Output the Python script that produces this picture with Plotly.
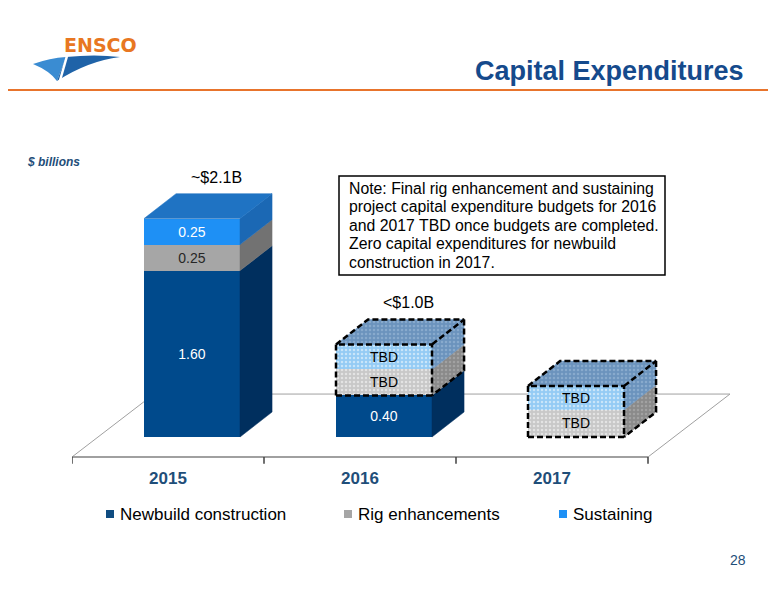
import plotly.graph_objects as go

# Capital expenditures ($ billions) - 2016/2017 rig & sustaining are placeholders (TBD)
years = ["2015", "2016", "2017"]
newbuild = [1.60, 0.40, 0.0]
rig_actual = [0.25, None, None]
rig_tbd = [None, 0.25, 0.26]
sust_actual = [0.25, None, None]
sust_tbd = [None, 0.24, 0.23]
newbuild_text = ["1.60", "0.40", ""]
actual_text = ["0.25", "", ""]
tbd_text = ["", "TBD", "TBD"]
totals_text = ["~$2.1B", "<$1.0B", ""]
legend_names = ["Newbuild construction", "Rig enhancements", "Sustaining"]
note_lines = [
    "Note: Final rig enhancement and sustaining",
    "project capital expenditure budgets for 2016",
    "and 2017 TBD once budgets are completed.",
    "Zero capital expenditures for newbuild",
    "construction in 2017.",
]

W, H = 776, 600
PAGE = 8  # the html body margin shifts the figure by 8px
L, R, T, B = 72 - PAGE, 44, 100 - PAGE, 142
PW, PH = W - L - R, H - T - B
NAVY = "#1F4E79"


def px(x, y):
    # page pixel -> paper coords
    return (x - PAGE - L) / PW, (H - B - (y - PAGE)) / PH


def ppath(cmds):
    out = []
    for c in cmds:
        if isinstance(c, str):
            out.append(c)
        else:
            x, y = px(*c)
            out.append(f"{x:.4f},{y:.4f}")
    return " ".join(out)


def label(x, y, text, anchor="center", **font):
    ax, ay = px(x, y)
    fig.add_annotation(xref="paper", yref="paper", x=ax, y=ay, text=text, showarrow=False,
                       xanchor=anchor, yanchor="middle", font=font)


xpos = list(range(len(years)))
BAR_W, BAR_OFF = 0.5, -0.125
DX, DY = 0.167, 0.24          # bar depth
FLOOR_Y, FDX, FDY = -0.192, 0.427, 0.605

layers = [
    dict(name="Newbuild construction", vals=newbuild, text=newbuild_text, front="#004A8C",
         side="#002F5E", top="#0B3F75", tbd=False, font="white"),
    dict(name="Rig enhancements", vals=rig_actual, text=actual_text, front="#A6A6A6",
         side="#727272", top="#8C8C8C", tbd=False, font="#262626"),
    dict(name="Rig enhancements (TBD)", vals=rig_tbd, text=tbd_text, front="#C8C8C8",
         side="#8A8A8A", top="#6B93BD", tbd=True, font="black", dot="#B8B8B8"),
    dict(name="Sustaining", vals=sust_actual, text=actual_text, front="#1E90F5",
         side="#1B68B4", top="#1F73C3", tbd=False, font="white"),
    dict(name="Sustaining (TBD)", vals=sust_tbd, text=tbd_text, front="#94CBF4",
         side="#6B93BD", top="#6B93BD", tbd=True, font="black", dot="#A3BFDC"),
]
legend_colors = ["#0F4C81", "#A6A6A6", "#1E90F5"]

fig = go.Figure()

# front faces: ordinary stacked bars
for ly in layers:
    marker = dict(color=ly["front"], line=dict(width=0))
    if ly["tbd"]:
        marker["pattern"] = dict(shape=".", fgcolor="white", bgcolor=ly["front"], size=4, solidity=0.3)
    fig.add_trace(go.Bar(
        x=xpos, y=ly["vals"], width=BAR_W, offset=BAR_OFF, name=ly["name"],
        marker=marker, text=ly["text"], textposition="inside",
        insidetextanchor="middle", textangle=0,
        textfont=dict(size=14, color=ly["font"]),
        showlegend=False, hoverinfo="skip"))

# stack segments for the 3d faces
base = [0.0] * len(years)
segs = []
for ly in layers:
    for i, v in enumerate(ly["vals"]):
        if v:
            segs.append((ly, i, base[i], base[i] + v))
            base[i] += v

# side faces
for ly, i, y0, y1 in segs:
    xr = xpos[i] + BAR_OFF + BAR_W
    kw = dict(fillcolor=ly["side"])
    if ly["tbd"]:
        kw["fillpattern"] = dict(shape=".", fgcolor=ly["dot"], bgcolor=ly["side"], size=4, solidity=0.3)
    fig.add_trace(go.Scatter(
        x=[xr, xr + DX, xr + DX, xr, xr], y=[y0, y0 + DY, y1 + DY, y1, y0],
        mode="lines", fill="toself", line=dict(width=0.5, color=ly["side"]),
        showlegend=False, hoverinfo="skip", **kw))

# top faces (top segment of each bar)
for i in xpos:
    ly, _, y0, y1 = [s for s in segs if s[1] == i][-1]
    xl = xpos[i] + BAR_OFF
    xr = xl + BAR_W
    kw = dict(fillcolor=ly["top"])
    if ly["tbd"]:
        kw["fillpattern"] = dict(shape=".", fgcolor="#A3BFDC", bgcolor=ly["top"], size=4, solidity=0.3)
    fig.add_trace(go.Scatter(
        x=[xl, xl + DX, xr + DX, xr, xl], y=[y1, y1 + DY, y1 + DY, y1, y1],
        mode="lines", fill="toself", line=dict(width=0.5, color=ly["top"]),
        showlegend=False, hoverinfo="skip", **kw))

# dashed outline around the TBD boxes
for i in xpos:
    tb = [s for s in segs if s[1] == i and s[0]["tbd"]]
    if not tb:
        continue
    y0, y1 = tb[0][2], tb[-1][3]
    xl = xpos[i] + BAR_OFF
    xr = xl + BAR_W
    xs = [xl, xr, xr, xl, xl, None, xl, xl + DX, xr + DX, xr, None, xr + DX, xr + DX, xr]
    ys = [y0, y0, y1, y1, y0, None, y1, y1 + DY, y1 + DY, y1, None, y1 + DY, y0 + DY, y0]
    fig.add_trace(go.Scatter(x=xs, y=ys, mode="lines",
                             line=dict(color="black", width=2.5, dash="6px,3px"),
                             showlegend=False, hoverinfo="skip"))

# totals above bars
for i, t in enumerate(totals_text):
    if t:
        fig.add_annotation(x=xpos[i] + BAR_OFF + BAR_W / 2 + 0.75 * DX, y=base[i] + DY,
                           text=t, showarrow=False, xanchor="center", yanchor="bottom", yshift=6,
                           font=dict(size=16, color="black"))

# floor
edges = [k - 0.5 for k in range(len(years) + 1)]
floor = [
    (edges[0] + FDX, FLOOR_Y + FDY, edges[-1] + FDX, FLOOR_Y + FDY),
    (edges[0], FLOOR_Y, edges[0] + FDX, FLOOR_Y + FDY),
    (edges[-1], FLOOR_Y, edges[-1] + FDX, FLOOR_Y + FDY),
]
for x0, y0, x1, y1 in floor:
    fig.add_shape(type="line", x0=x0, y0=y0, x1=x1, y1=y1, xref="x", yref="y",
                  line=dict(color="#A0A0A0", width=1), layer="below")
fig.add_shape(type="line", x0=edges[0], y0=FLOOR_Y, x1=edges[-1], y1=FLOOR_Y, xref="x", yref="y",
              line=dict(color="#808080", width=1.5), layer="below")
for e in edges:
    fig.add_shape(type="line", x0=e, y0=FLOOR_Y, x1=e, y1=FLOOR_Y - 0.065, xref="x", yref="y",
                  line=dict(color="#404040", width=1.5), layer="below")

# header: logo, title, orange rule
x0, y0 = px(0, 90)
x1, _ = px(W, 90)
fig.add_shape(type="line", xref="paper", yref="paper", x0=x0, x1=x1, y0=y0, y1=y0,
              line=dict(color="#E8742C", width=2))
fig.add_shape(type="path", xref="paper", yref="paper", line=dict(width=0), fillcolor="#3A8CD2",
              path=ppath(["M", (33, 64), "Q", (50, 58), (66, 57), "L", (57, 81),
                          "Q", (50, 71), (33, 64), "Z"]))
fig.add_shape(type="path", xref="paper", yref="paper", line=dict(width=0), fillcolor="#1F63A8",
              path=ppath(["M", (66, 57), "Q", (95, 54), (120, 57), "Q", (88, 61), (57, 81),
                          "Z"]))
sx0, sy0 = px(67, 56)
sx1, sy1 = px(59, 84)
fig.add_shape(type="line", xref="paper", yref="paper", x0=sx0, y0=sy0, x1=sx1, y1=sy1,
              line=dict(color="white", width=2.5))
label(100, 45, "ENSCO", family="DejaVu Sans", size=19, color="#E87722", weight="bold")
label(746, 71, "Capital Expenditures", anchor="right", size=27, color="#154A8C", weight="bold")
label(25, 162, "$ billions", anchor="left", size=12, color=NAVY, weight="bold", style="italic")
label(748, 560, "28", anchor="right", size=14, color=NAVY)

# note box
rx0, ry0 = px(339, 176)
rx1, ry1 = px(665, 275)
fig.add_shape(type="rect", xref="paper", yref="paper", x0=rx0, y0=ry0, x1=rx1, y1=ry1,
              line=dict(color="black", width=1.5), fillcolor="white")
for k, line in enumerate(note_lines):
    label(347, 188 + 18.5 * k, line, anchor="left", size=15.8, color="black")

# legend row
for name, col, lx in zip(legend_names, legend_colors, [106, 344, 559]):
    qx0, qy0 = px(lx, 510)
    qx1, qy1 = px(lx + 8, 518)
    fig.add_shape(type="rect", xref="paper", yref="paper", x0=qx0, y0=qy0, x1=qx1, y1=qy1,
                  line=dict(width=0), fillcolor=col)
    label(lx + 12, 514, name, anchor="left", size=17, color="black")

fig.update_layout(
    width=W, height=H,
    margin=dict(l=L, r=R, t=T, b=B),
    barmode="stack",
    paper_bgcolor="white", plot_bgcolor="white",
    font=dict(family="Arial, Liberation Sans, sans-serif", color="black"),
    hovermode=False,
    showlegend=False,
    xaxis=dict(range=[-0.5, -0.5 + PW / 192], tickvals=xpos, ticktext=years, ticks="",
               showgrid=False, zeroline=False, showline=False,
               tickfont=dict(size=17, color=NAVY, weight="bold")),
    yaxis=dict(range=[(437 - 466) / 104, (437 - 100) / 104], visible=False,
               showgrid=False, zeroline=False),
)

fig.write_html("out.html")
